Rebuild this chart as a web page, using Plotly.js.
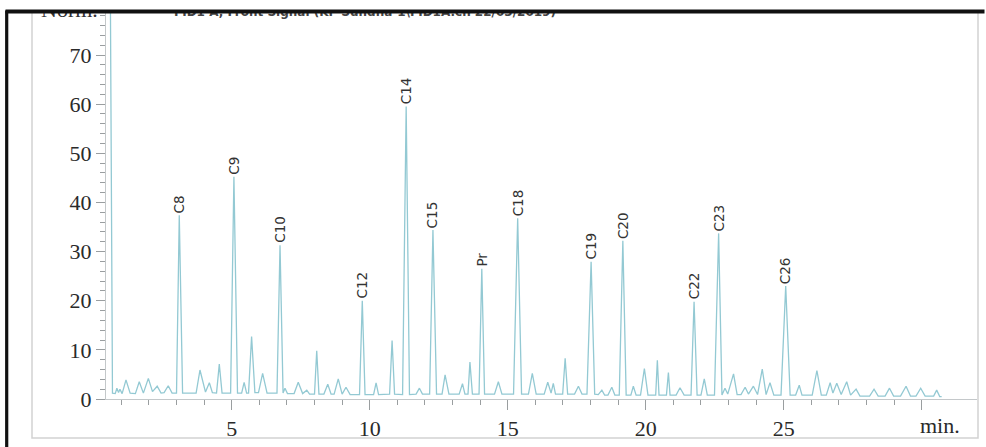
<!DOCTYPE html>
<html>
<head>
<meta charset="utf-8">
<script src="https://cdn.plot.ly/plotly-3.0.1.min.js"></script>
<style>
  html, body { margin: 0; padding: 0; background: #ffffff; }
  #chart { width: 986px; height: 447px; }
</style>
</head>
<body>
<div id="chart"></div>
<script>
// Retention time (min) of the chromatogram polyline vertices
const retentionTime = [
  0.55, 0.68, 0.78, 0.84, 0.90, 0.95, 1.03, 1.17, 1.32, 1.51, 1.65, 1.80, 1.98, 2.13, 2.30, 2.44, 2.55, 2.70, 2.84,
  3.00, 3.10, 3.22, 3.71, 3.85, 4.05, 4.19, 4.30, 4.45, 4.55, 4.65, 4.96, 5.08, 5.21, 5.36, 5.45, 5.54, 5.61, 5.72,
  5.84, 5.97, 6.12, 6.28, 6.64, 6.75, 6.86, 6.93, 7.02, 7.26, 7.41, 7.57, 7.72, 7.82, 8.00, 8.08, 8.16, 8.34, 8.48,
  8.60, 8.71, 8.86, 9.00, 9.14, 9.29, 9.63, 9.73, 9.83, 10.14, 10.23, 10.32, 10.72, 10.81, 10.90, 11.19, 11.32, 11.44,
  11.68, 11.80, 11.91, 12.17, 12.29, 12.42, 12.62, 12.73, 12.87, 13.24, 13.36, 13.45, 13.56, 13.63, 13.72, 13.96,
  14.06, 14.16, 14.52, 14.66, 14.79, 15.21, 15.36, 15.50, 15.75, 15.89, 16.03, 16.32, 16.45, 16.57, 16.65, 16.73,
  16.99, 17.08, 17.17, 17.42, 17.56, 17.69, 17.87, 18.02, 18.15, 18.28, 18.41, 18.51, 18.63, 18.77, 18.88, 19.04,
  19.17, 19.29, 19.46, 19.55, 19.65, 19.81, 19.95, 20.08, 20.36, 20.42, 20.48, 20.75, 20.82, 20.88, 21.10, 21.24,
  21.39, 21.64, 21.75, 21.86, 22.00, 22.12, 22.23, 22.49, 22.64, 22.76, 22.87, 22.97, 23.18, 23.31, 23.45, 23.60,
  23.72, 23.90, 24.05, 24.22, 24.36, 24.50, 24.64, 24.90, 25.07, 25.23, 25.43, 25.56, 25.66, 26.03, 26.20, 26.36,
  26.54, 26.68, 26.78, 26.92, 27.08, 27.28, 27.42, 27.62, 27.76, 28.11, 28.27, 28.42, 28.67, 28.83, 28.98, 29.23,
  29.43, 29.59, 29.79, 29.96, 30.12, 30.43, 30.54, 30.65, 30.72
];
// Detector signal (Norm.) at each vertex
const signal = [
  140, 1.2, 1.1, 2.2, 1.3, 2.0, 1.1, 3.9, 1.2, 1.1, 3.5, 1.2, 4.2, 1.5, 2.6, 1.2, 1.3, 2.7, 1.2,
  1.2, 37.4, 1.2, 1.2, 5.9, 1.4, 3.3, 1.3, 1.2, 7.1, 1.2, 1.2, 45.2, 1.2, 1.2, 3.4, 1.2, 1.2, 12.7,
  1.3, 1.3, 5.2, 1.2, 1.2, 31.3, 1.2, 2.2, 1.1, 1.1, 3.4, 1.1, 1.8, 1.0, 1.0, 9.8, 1.0, 1.0, 3.0,
  1.0, 1.0, 4.1, 1.0, 2.4, 0.9, 0.9, 20.0, 0.9, 0.9, 3.3, 0.9, 1.0, 11.9, 1.0, 0.9, 59.5, 0.9,
  1.0, 2.2, 1.0, 1.0, 34.4, 1.0, 1.0, 4.9, 1.0, 1.0, 3.1, 1.0, 1.0, 7.5, 1.0, 1.0,
  26.5, 1.0, 1.0, 3.5, 1.0, 1.0, 36.8, 1.0, 1.0, 5.2, 1.0, 1.0, 3.4, 1.2, 3.2, 1.0,
  1.0, 8.3, 1.0, 1.0, 2.6, 1.0, 1.0, 27.9, 1.0, 0.9, 1.8, 0.8, 0.8, 2.4, 0.8, 0.8,
  32.2, 0.8, 0.8, 2.6, 0.8, 0.8, 6.2, 0.8, 0.8, 7.9, 0.8, 0.8, 5.4, 0.8, 0.8, 2.3,
  0.8, 0.8, 19.8, 0.8, 0.8, 4.1, 0.8, 0.8, 33.7, 0.8, 2.2, 1.0, 5.1, 0.9, 0.9, 2.4,
  1.0, 2.6, 0.9, 6.1, 0.9, 3.3, 0.8, 0.8, 23.0, 0.8, 0.8, 2.8, 0.8, 0.8, 5.8, 0.8,
  0.8, 3.3, 1.2, 3.2, 0.9, 3.5, 0.8, 2.0, 0.6, 0.6, 2.0, 0.6, 0.6, 2.2, 0.6, 0.6,
  2.6, 0.6, 0.6, 2.2, 0.6, 0.6, 1.8, 0.5, 0.5
];
// Labelled peaks
const peakNames   = ['C8', 'C9', 'C10', 'C12', 'C14', 'C15', 'Pr', 'C18', 'C19', 'C20', 'C22', 'C23', 'C26'];
const peakTimes   = [3.10, 5.08, 6.75, 9.73, 11.32, 12.29, 14.06, 15.36, 18.02, 19.17, 21.75, 22.64, 25.07];
const peakHeights = [37.4, 45.2, 31.3, 20.0, 59.5, 34.4, 26.5, 36.8, 27.9, 32.2, 19.8, 33.7, 23.0];
// Axis ticks
const xTickVals  = [5, 10, 15, 20, 25, 30];
const xTickText  = ['5', '10', '15', '20', '25', ''];
const xMinorVals = [1, 2, 3, 4, 6, 7, 8, 9, 11, 12, 13, 14, 16, 17, 18, 19, 21, 22, 23, 24, 26, 27, 28, 29];
const yTickVals  = [0, 10, 20, 30, 40, 50, 60, 70];
const xUnitLabel = 'min.';
const yUnitLabel = 'Norm.';
const signalTitle = 'FID1 A, Front Signal (KF-Sundha-1\\FID1A.ch 22/03/2019)';

// page geometry helpers (pixel -> paper)
const L = 106, R = 977, T = 12, B = 399;
const W = 986, H = 447;
const px = v => (v - L) / (R - L);
const py = v => (B - v) / (B - T);

const serif = 'Liberation Serif, Times New Roman, serif';
const axisLine = '#c4c8ca';
const tickCol = '#9a9ea0';

const traces = [{
  type: 'scatter', mode: 'lines',
  x: retentionTime, y: signal,
  line: { color: '#93c9d3', width: 1.3 },
  hoverinfo: 'skip', showlegend: false
}];

const annotations = peakNames.map((n, i) => ({
  x: peakTimes[i], y: peakHeights[i], xref: 'x', yref: 'y',
  text: n, showarrow: false, textangle: -90,
  xanchor: 'center', yanchor: 'bottom', yshift: 0,
  font: { family: 'DejaVu Sans, sans-serif', size: 13.5, color: '#333333' }
}));

annotations.push({
  x: 30.66, xref: 'x', y: py(425), yref: 'paper', text: xUnitLabel, showarrow: false,
  xanchor: 'center', yanchor: 'middle',
  font: { family: serif, size: 22, color: '#2a2a2a' }
});
// header texts, partly hidden by the cropped border
annotations.push({
  x: px(100), xref: 'paper', y: py(9.6), yref: 'paper', text: yUnitLabel, showarrow: false,
  xanchor: 'right', yanchor: 'middle',
  font: { family: serif, size: 22, color: '#333333' }
});
annotations.push({
  x: px(172), xref: 'paper', y: py(11.5), yref: 'paper', text: '<b>' + signalTitle + '</b>', showarrow: false,
  xanchor: 'left', yanchor: 'middle',
  font: { family: 'DejaVu Sans, sans-serif', size: 12, color: '#444444' }
});
// white cover above the crop edge
annotations.push({
  x: px(-2), xref: 'paper', y: py(-2), yref: 'paper', text: '.', showarrow: false,
  xanchor: 'left', yanchor: 'top', width: 992, height: 11.3, borderpad: 0,
  bgcolor: '#ffffff', font: { size: 1, color: '#ffffff' }
});
// black crop edge on top
annotations.push({
  x: px(5), xref: 'paper', y: py(9.3), yref: 'paper', text: '.', showarrow: false,
  xanchor: 'left', yanchor: 'top', width: 978, height: 2.6, borderpad: 0,
  bgcolor: '#111111', font: { size: 1, color: '#111111' }
});

const shapes = [
  // light grey outer frame
  { type: 'rect', xref: 'paper', yref: 'paper', x0: px(32), x1: px(978), y0: py(438), y1: py(10),
    line: { color: '#d2d2d2', width: 1.5 }, fillcolor: 'rgba(0,0,0,0)', layer: 'below' },
  // black crop edge on the left
  { type: 'line', xref: 'paper', yref: 'paper', x0: px(6.7), x1: px(6.7), y0: py(10), y1: py(448),
    line: { color: '#111111', width: 3.2 }, layer: 'above' }
];

const layout = {
  width: W, height: H,
  margin: { l: L, r: W - R, t: T, b: H - B, pad: 0 },
  paper_bgcolor: '#ffffff', plot_bgcolor: '#ffffff',
  showlegend: false,
  xaxis: {
    range: [0.4457, 32.0],
    tickmode: 'array', tickvals: xTickVals, ticktext: xTickText,
    ticks: 'outside', ticklen: 10, tickwidth: 1, tickcolor: tickCol,
    showline: true, linecolor: axisLine, linewidth: 1,
    showgrid: false, zeroline: false,
    tickfont: { family: serif, size: 22, color: '#2a2a2a' },
    minor: { tickmode: 'array', tickvals: xMinorVals, ticks: 'outside', ticklen: 5, tickcolor: tickCol, showgrid: false },
    fixedrange: true
  },
  yaxis: {
    range: [0, 78.75],
    tickmode: 'array', tickvals: yTickVals,
    ticks: 'outside', ticklen: 9, tickwidth: 1, tickcolor: tickCol,
    showline: true, linecolor: axisLine, linewidth: 1,
    showgrid: false, zeroline: false,
    tickfont: { family: serif, size: 22, color: '#2a2a2a' },
    minor: { dtick: 2, ticks: 'outside', ticklen: 5, tickcolor: tickCol, showgrid: false },
    fixedrange: true
  },
  annotations: annotations,
  shapes: shapes
};

Plotly.newPlot('chart', traces, layout, { displayModeBar: false, staticPlot: true });
</script>
</body>
</html>
